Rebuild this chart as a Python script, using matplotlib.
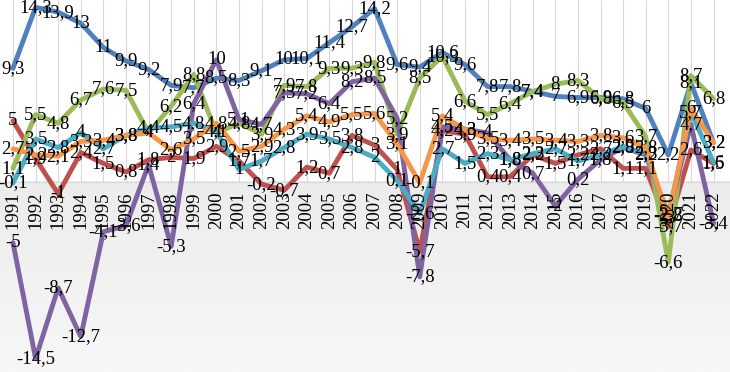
import numpy as np
import matplotlib
matplotlib.use("Agg")
import matplotlib.pyplot as plt

# ---------------------------------------------------------
# DATA (GDP growth, %)
# ---------------------------------------------------------

years = list(range(1991, 2023))

china = [9.3, 14.3, 13.9, 13.0, 11.0, 9.9, 9.2, 7.9, 7.7, 8.5, 8.3, 9.1, 10.0, 10.1, 11.4, 12.7,
         14.2, 9.6, 9.4, 10.6, 9.6, 7.8, 7.8, 7.4, 7.0, 6.9, 6.9, 6.8, 6.0, 2.2, 8.1, 3.2]
germany = [5.0, 1.9, -1.0, 2.4, 1.5, 0.8, 1.8, 2.0, 1.9, 2.9, 1.7, -0.2, -0.7, 1.2, 0.7, 3.8,
           3.0, 1.0, -5.7, 4.2, 3.9, 0.4, 0.4, 2.2, 1.5, 2.2, 2.7, 1.1, 1.1, -3.7, 2.6, 1.5]
india = [1.1, 5.5, 4.8, 6.7, 7.6, 7.5, 4.0, 6.2, 8.8, 4.0, 4.8, 3.9, 7.9, 7.8, 9.3, 9.3,
         9.8, 3.9, 8.5, 10.3, 6.6, 5.5, 6.4, 7.4, 8.0, 8.3, 6.8, 6.5, 3.7, -6.6, 8.7, 6.8]
russia = [-5.0, -14.5, -8.7, -12.7, -4.1, -3.6, 1.4, -5.3, 6.4, 10.0, 5.1, 4.7, 7.3, 7.2, 6.4, 8.2,
          8.5, 5.2, -7.8, 4.5, 4.3, 4.0, 1.8, 0.7, -2.0, 0.2, 1.8, 2.8, 2.2, -2.7, 4.7, -3.4]
usa = [-0.1, 3.5, 2.8, 4.0, 2.7, 3.8, 4.4, 4.5, 4.8, 4.1, 1.0, 1.7, 2.8, 3.9, 3.5, 2.8,
       2.0, 0.1, -2.6, 2.7, 1.5, 2.3, 1.8, 2.3, 2.7, 1.7, 2.2, 2.9, 2.3, -2.8, 5.7, 1.6]
world = [2.7, 2.2, 2.1, 3.3, 3.4, 3.8, 4.0, 2.6, 3.5, 4.8, 2.5, 2.9, 4.3, 5.4, 4.9, 5.5,
         5.6, 3.1, -0.1, 5.4, 4.3, 3.5, 3.4, 3.5, 3.4, 3.3, 3.8, 3.6, 2.8, -3.0, 6.0, 3.2]

series = [china, germany, india, russia, usa, world]
colors = ["#4F81BD", "#C0504D", "#9BBB59", "#8064A2", "#4BACC6", "#F79646"]

# ---------------------------------------------------------
# FIGURE
# ---------------------------------------------------------

plt.rcParams["font.family"] = ["Liberation Serif", "DejaVu Serif"]

fig = plt.figure(figsize=(7.3, 3.72), dpi=100)
ax = fig.add_axes([0, 0, 1, 1])

x = np.arange(len(years))
ymin, ymax = -15.6, 14.9
ax.set_xlim(-0.575, 31.73)
ax.set_ylim(ymin, ymax)
ax.axis("off")

# grey floor below zero
grad = np.linspace(0, 1, 100).reshape(-1, 1)
ax.imshow(grad, extent=[-0.575, 31.73, ymin, 0], aspect="auto",
          cmap=matplotlib.colors.LinearSegmentedColormap.from_list("g", ["#ececec", "#f7f7f7"]),
          origin="upper", zorder=0)

ax.vlines(x, 0, ymax, color="#d9d9d9", lw=0.8, zorder=1)
ax.axhline(0, color="#d9d9d9", lw=0.8, zorder=1)

for vals, c in zip(series, colors):
    ax.plot(x, vals, color=c, lw=3.5, solid_joinstyle="round",
            solid_capstyle="round", zorder=2)

for vals in series:
    for xi, v in zip(x, vals):
        ax.text(xi, v, f"{v:g}".replace(".", ","), ha="center", va="center",
                fontsize=13.5, color="black", zorder=3)

for xi, yr in zip(x, years):
    ax.text(xi, -0.8, str(yr), rotation=90, ha="center", va="top",
            fontsize=13.5, color="black", zorder=3)

fig.savefig("out.png", dpi=100)
